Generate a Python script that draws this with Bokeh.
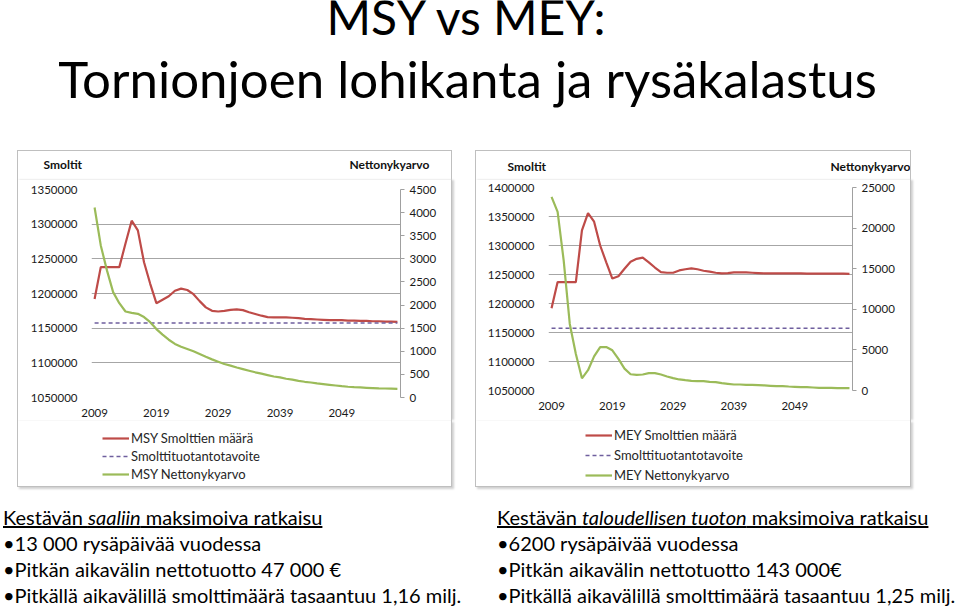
from bokeh.plotting import figure
from bokeh.models import (Range1d, LinearAxis, FixedTicker, Legend, LegendItem,
                          Label, Div, Spacer)
from bokeh.layouts import column, row
from bokeh.embed import file_html
from bokeh.resources import INLINE

FONT = "Lato"
RED = "#BE4B48"
GREEN = "#9BBB59"
PURPLE = "#6F5F9E"
GRID = "#A6A6A6"
AXIS = "#A0A0A0"
BORDER = "1px solid #BFBFBF"

# ---------------- data ----------------
years = list(range(2009, 2059))
x_tick_years = [2009, 2019, 2029, 2039, 2049]

smolt_target = 1157500

msy_smolts = [1192000, 1238000, 1238000, 1238000, 1238000, 1272000, 1305000, 1291000, 1245000, 1214000,
              1186000, 1191000, 1196000, 1204000, 1207000, 1205000, 1199000, 1189000, 1180000, 1175000,
              1174000, 1175000, 1176500, 1177000, 1176000, 1173000, 1170500, 1168000, 1166000, 1165500,
              1165500, 1165500, 1165000, 1164500, 1163500, 1163000, 1162500, 1162000, 1161500, 1161500,
              1161500, 1161000, 1161000, 1160500, 1160500, 1160000, 1160000, 1159500, 1159500, 1159000]
msy_npv = [4110, 3290, 2750, 2280, 2040, 1860, 1830, 1810, 1740, 1630,
           1480, 1360, 1250, 1160, 1100, 1050, 1000, 940, 880, 825,
           775, 725, 690, 650, 615, 580, 545, 515, 485, 455,
           435, 405, 385, 360, 340, 325, 305, 290, 275, 260,
           245, 232, 224, 217, 210, 203, 196, 195, 192, 188]

mey_smolts = [1192000, 1237000, 1237000, 1237000, 1237000, 1326000, 1356000, 1341000, 1300000, 1271000,
              1243000, 1247000, 1260000, 1272000, 1277000, 1279000, 1271000, 1262000, 1254000, 1253000,
              1253000, 1257000, 1259000, 1260500, 1259000, 1256500, 1255000, 1253000, 1252000, 1252500,
              1253500, 1253500, 1253500, 1253000, 1252500, 1252000, 1252000, 1252000, 1252000, 1252000,
              1252000, 1252000, 1251500, 1251500, 1251500, 1251500, 1251500, 1251500, 1251500, 1251000]
mey_npv = [23850, 22000, 16000, 8200, 4500, 1500, 2500, 4200, 5350, 5350,
           4950, 3900, 2700, 2000, 1930, 1970, 2140, 2140, 1970, 1730,
           1520, 1360, 1270, 1190, 1150, 1150, 1070, 1030, 900, 820,
           740, 740, 700, 700, 660, 620, 580, 540, 540, 490,
           450, 410, 410, 370, 330, 330, 330, 290, 290, 290]

msy_left_ticks = [1050000, 1100000, 1150000, 1200000, 1250000, 1300000, 1350000]
msy_right_ticks = [0, 500, 1000, 1500, 2000, 2500, 3000, 3500, 4000, 4500]
mey_left_ticks = [1050000, 1100000, 1150000, 1200000, 1250000, 1300000, 1350000, 1400000]
mey_right_ticks = [0, 5000, 10000, 15000, 20000, 25000]

left_axis_title = "Smoltit"
right_axis_title = "Nettonykyarvo"
msy_names = ["MSY Smolttien määrä", "Smolttituotantotavoite", "MSY Nettonykyarvo"]
mey_names = ["MEY Smolttien määrä", "Smolttituotantotavoite", "MEY Nettonykyarvo"]

title_lines = ["MSY vs MEY:", "Tornionjoen lohikanta ja rysäkalastus"]


def blank_fig(w, h, styles=None):
    f = figure(width=w, height=h, output_backend="svg", toolbar_location=None, title=None,
               x_range=Range1d(0, w), y_range=Range1d(h, 0),
               x_axis_type=None, y_axis_type=None, min_border=0,
               background_fill_color="white", border_fill_color="white")
    f.outline_line_color = None
    f.grid.visible = False
    if styles:
        f.styles = styles
    return f


def style_axis(ax, standoff):
    ax.major_label_standoff = standoff
    ax.major_label_text_font = FONT
    ax.major_label_text_font_size = "11.5px"
    ax.major_label_text_color = "#1A1A1A"
    ax.minor_tick_line_color = None


def make_header(width, lbl_pos):
    head = blank_fig(width, 30, {"border-top": BORDER, "border-left": BORDER,
                                 "border-right": BORDER})
    for txt, (xx, yy) in zip((left_axis_title, right_axis_title), lbl_pos):
        head.add_layout(Label(x=xx, y=yy, text=txt, text_font=FONT, text_font_style="bold",
                              text_font_size="12px", text_color="#111111",
                              text_baseline="alphabetic"))
    return head


def make_chart(width, borders, left_ticks, right_ticks, smolts, npv):
    mb_l, mb_r, mb_t, mb_b = borders
    p = figure(width=width, height=240, output_backend="svg", toolbar_location=None,
               title=None,
               x_range=Range1d(years[0] - 0.5, years[-1] + 0.5),
               y_range=Range1d(left_ticks[0], left_ticks[-1]),
               min_border_left=mb_l, min_border_right=mb_r,
               min_border_top=mb_t, min_border_bottom=mb_b,
               background_fill_color="white", border_fill_color="white")
    p.outline_line_color = None
    p.styles = {"border-left": BORDER, "border-right": BORDER,
                "box-shadow": "2px 0px 2px #D0D0D0"}
    p.extra_y_ranges = {"npv": Range1d(right_ticks[0], right_ticks[-1])}

    ya = p.yaxis[0]
    ya.ticker = FixedTicker(ticks=left_ticks)
    ya.axis_line_color = None
    ya.major_tick_line_color = None
    ya.formatter.use_scientific = False
    style_axis(ya, 8)
    p.ygrid.ticker = FixedTicker(ticks=left_ticks)
    p.ygrid.grid_line_color = GRID
    p.xgrid.visible = False

    xa = p.xaxis[0]
    xa.ticker = FixedTicker(ticks=x_tick_years)
    xa.axis_line_color = None
    xa.major_tick_line_color = None
    style_axis(xa, 5)

    ra = LinearAxis(y_range_name="npv", ticker=FixedTicker(ticks=right_ticks))
    ra.axis_line_color = AXIS
    ra.major_tick_line_color = AXIS
    ra.major_tick_in = 0
    ra.major_tick_out = 4
    ra.formatter.use_scientific = False
    style_axis(ra, 5)
    p.add_layout(ra, "right")

    p.line(years, smolts, line_color=RED, line_width=2.2)
    p.line(years, [smolt_target] * len(years), line_color=PURPLE, line_width=1.5,
           line_dash="4 3")
    p.line(years, npv, line_color=GREEN, line_width=2.2, y_range_name="npv")
    return p


def make_legend(width, smolts, npv, names, loc, row_h):
    leg = blank_fig(width, 67, {"border-left": BORDER, "border-right": BORDER,
                                "border-bottom": BORDER,
                                "box-shadow": "2px 2px 2px #D0D0D0"})
    # legend keys: the same series (they fall outside this strip's ranges and stay unseen)
    k1 = leg.line(years, smolts, line_color=RED, line_width=2.2)
    k2 = leg.line(years, [smolt_target] * len(years), line_color=PURPLE, line_width=1.5,
                  line_dash="4 3")
    k3 = leg.line(years, npv, line_color=GREEN, line_width=2.2)
    legend = Legend(items=[LegendItem(label=names[0], renderers=[k1]),
                           LegendItem(label=names[1], renderers=[k2]),
                           LegendItem(label=names[2], renderers=[k3])],
                    location=loc, orientation="vertical",
                    padding=0, margin=0, spacing=0,
                    glyph_width=27, glyph_height=row_h,
                    label_height=row_h, label_standoff=2,
                    label_text_font=FONT, label_text_font_size="13px",
                    label_text_color="#262626",
                    border_line_color=None, background_fill_alpha=0)
    leg.add_layout(legend)
    return leg


head1 = make_header(435, [(25, 13), (331, 13)])
head2 = make_header(436, [(31, 15), (354, 15)])
p1 = make_chart(435, (73, 53, 9, 23), msy_left_ticks, msy_right_ticks, msy_smolts, msy_npv)
p2 = make_chart(436, (72, 60, 7, 30), mey_left_ticks, mey_right_ticks, mey_smolts, mey_npv)
leg1 = make_legend(435, msy_smolts, msy_npv, msy_names, (84, 4), 18)
leg2 = make_legend(436, mey_smolts, mey_npv, mey_names, (109, 2), 20)

# ---------------- title ----------------
title_fig = blank_fig(960, 150)
for txt, yy, fs in zip(title_lines, (16, 78), ("48px", "51px")):
    title_fig.add_layout(Label(x=467, y=yy, text=txt, text_font=FONT, text_font_size=fs,
                               text_align="center", text_baseline="alphabetic",
                               text_color="#000000"))

# ---------------- bottom text ----------------
left_text = ('<u>Kestävän <i>saaliin</i> maksimoiva ratkaisu</u><br>'
             '•13 000 rysäpäivää vuodessa<br>'
             '•Pitkän aikavälin nettotuotto 47 000 €<br>'
             '•Pitkällä aikavälillä smolttimäärä tasaantuu 1,16 milj.')
right_text = ('<u>Kestävän <i>taloudellisen tuoton</i> maksimoiva ratkaisu</u><br>'
              '•6200 rysäpäivää vuodessa<br>'
              '•Pitkän aikavälin nettotuotto 143 000€<br>'
              '•Pitkällä aikavälillä smolttimäärä tasaantuu 1,25 milj.')


def text_div(html, pad_left, w):
    return Div(text=html, width=w, height=125, margin=0,
               styles={"font-family": FONT, "font-size": "20px", "line-height": "25.9px",
                       "color": "#000000", "padding-top": "18px",
                       "padding-left": f"{pad_left}px", "white-space": "nowrap",
                       "box-sizing": "border-box", "overflow": "visible"})


d1 = text_div(left_text, 3, 480)
d2 = text_div(right_text, 17, 480)

layout = column(title_fig,
                row(Spacer(width=17, height=30), head1, Spacer(width=23, height=30), head2,
                    spacing=0),
                row(Spacer(width=17, height=240), column(p1), Spacer(width=23, height=240),
                    column(p2), spacing=0),
                row(Spacer(width=17, height=67), leg1, Spacer(width=23, height=67), leg2,
                    spacing=0),
                row(d1, d2, spacing=0),
                spacing=0)

open("out.html", "w").write(file_html(layout, INLINE))
